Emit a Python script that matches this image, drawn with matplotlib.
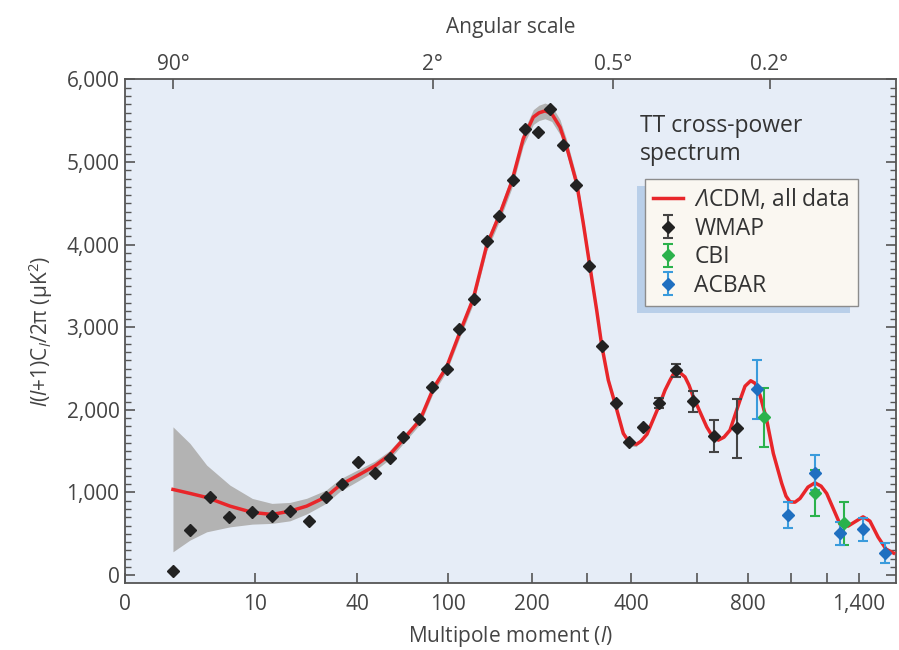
import numpy as np
import matplotlib
matplotlib.use('Agg')
import matplotlib.pyplot as plt
from matplotlib.ticker import FixedLocator, MultipleLocator, FuncFormatter, NullLocator
from matplotlib.patches import Rectangle

plt.rcParams['font.family'] = ['Open Sans', 'DejaVu Sans']
plt.rcParams['mathtext.fontset'] = 'custom'
plt.rcParams['mathtext.rm'] = 'Open Sans'
plt.rcParams['mathtext.it'] = 'Open Sans:italic'
plt.rcParams['mathtext.bf'] = 'Open Sans:bold'
plt.rcParams['mathtext.cal'] = 'Open Sans:italic'

# WMAP binned TT points
wmap_l = [2, 3.7, 5.6, 7.5, 9.7, 15, 20.3, 25.9, 30.9, 35.6, 40.9, 51.9, 61.7, 70.5,
          81.2, 89.6, 99.1, 113.5, 131.3, 146.1, 161.1, 177, 192, 210.9, 233.6, 255.8,
          280.9, 305, 333.4, 364.8, 395, 436.4, 485.8, 537.3, 588.8, 667.5, 755.7]
wmap_cl = [45, 545, 947, 698, 759, 718, 778, 653, 947, 1101, 1371, 1238, 1412, 1673,
           1884, 2278, 2501, 2985, 3340, 4041, 4348, 4780, 5397, 5360, 5647, 5203,
           4719, 3739, 2771, 2078, 1607, 1791, 2078, 2481, 2105, 1686, 1775]
wmap_err = [0] * 32 + [60, 80, 125, 197, 352]

cbi_l = [876, 1133, 1308]
cbi_cl = [1908, 996, 626]
cbi_err = [353, 276, 260]

acbar_l = [840, 987, 1133, 1281, 1429, 1573]
acbar_cl = [2247, 726, 1238, 505, 557, 270]
acbar_err = [355, 154, 212, 141, 139, 119]

# best-fit LCDM curve
model_l = [2, 3.66, 5.29, 7.56, 9.74, 15, 20.3, 25.2, 30.9, 35, 40.9, 51.9, 61.3, 70.5,
           81.5, 90.3, 99.1, 114.3, 130.1, 146.1, 161.9, 175.8, 189.6, 202.4, 212.7,
           223.6, 235.8, 250.9, 263.1, 281.3, 293.3, 306.8, 322, 333.4, 348.4, 365.9,
           382.5, 397.7, 417.3, 430, 448.5, 487.9, 503, 518.2, 527.3, 538.5, 548.5,
           563.6, 575.8, 588.8, 638, 658.8, 683.5, 705.9, 729.4, 768.6, 788.2, 812.6,
           832.6, 855.8, 887, 917.7, 956.7, 976.7, 995.3, 1022, 1050, 1094, 1133,
           1167, 1198, 1281, 1331, 1381, 1427, 1473, 1527, 1580, 1633]
model_cl = [1037, 989, 940, 835, 759, 734, 774, 835, 947, 1089, 1210, 1323, 1452, 1642,
            1876, 2259, 2520, 2944, 3348, 3993, 4377, 4759, 5284, 5545, 5596,
            5620, 5587, 5424, 5182, 4740, 4256, 3730, 3207, 2783, 2360, 2036,
            1715, 1594, 1585, 1620, 1706, 2078, 2238, 2360, 2426, 2460, 2450,
            2399, 2299, 2157, 1794, 1688, 1634, 1670, 1755, 2118, 2287, 2353,
            2323, 2178, 1876, 1473, 1110, 956, 887, 883, 928, 1065, 1117,
            1077, 989, 617, 593, 653, 705, 653, 460, 315, 266]

# cosmic-variance band around the model
band_l = [2, 3.66, 5.29, 7.56, 9.74, 15, 20.3, 25.2, 30.9, 35, 40.9, 51.9, 61.3, 70.5,
          81.5, 90.3, 99.1, 114.3, 130.1, 146.1, 161.9, 175.8, 189.6, 202.4, 212.7,
          223.6, 235.8, 250.9, 263.1, 281.3, 293.3, 306.8, 322, 333.4, 348.4, 365.9,
          382.5, 397.7, 417.3]
band_lo = [282, 424, 524, 584, 617, 626, 657, 740, 868, 1014, 1142, 1265, 1400, 1592,
           1826, 2207, 2465, 2884, 3283, 3923, 4302, 4679, 5199, 5455, 5503,
           5525, 5492, 5334, 5097, 4660, 4186, 3670, 3157, 2738, 2320, 2001,
           1685, 1564, 1555]
band_hi = [1795, 1594, 1331, 1089, 928, 868, 880, 930, 1029, 1164, 1278, 1381, 1504, 1692,
           1926, 2311, 2575, 3004, 3413, 4063, 4452, 4839, 5369, 5635, 5689,
           5715, 5682, 5514, 5267, 4820, 4326, 3790, 3257, 2828, 2400, 2071,
           1745, 1624, 1615]

x_ticks = [0, 10, 40, 100, 200, 300, 400, 600, 800, 1000, 1200, 1400]
x_labels = ['0', '10', '40', '100', '200', '', '400', '', '800', '', '', '1,400']
top_ticks = [2, 90, 360, 900]
top_labels = ['90°', '2°', '0.5°', '0.2°']

# multipole axis is stretched: log-like at low l, near linear at high l
scale_l = [0, 2, 10, 40, 100, 200, 300, 400, 600, 800, 1000, 1200, 1400, 1600, 1800]
scale_u = [125, 173, 255, 357, 448, 532, 587, 631, 697, 748, 791, 827, 859, 889, 917]


def fwd(l):
    return np.interp(l, scale_l, scale_u)


def inv(u):
    return np.interp(u, scale_u, scale_l)


grey = '#444444'
fig = plt.figure(figsize=(8.99, 6.5), dpi=100)
ax = fig.add_axes([0.139, 0.1038, 0.8577, 0.7739])
ax.set_facecolor('#e6edf7')
ax.set_xscale('function', functions=(fwd, inv))
ax.set_xlim(0, 1650)
ax.set_ylim(-90, 6000)

ax.fill_between(band_l, band_lo, band_hi, color='#b3b3b3', lw=0, zorder=1)
ax.plot(model_l, model_cl, color='#e8262a', lw=2.5, zorder=3,
        solid_joinstyle='round', label=r'$\mathcal{\Lambda}$CDM, all data')
ax.errorbar(wmap_l, wmap_cl, yerr=wmap_err, fmt='D', ms=6, color='#222222',
            ecolor='#444444', elinewidth=1.5, capsize=3.5, capthick=1.5, zorder=4,
            label='WMAP')
ax.errorbar(cbi_l, cbi_cl, yerr=cbi_err, fmt='D', ms=6, color='#2bb24c',
            ecolor='#2bb24c', elinewidth=1.5, capsize=3.5, capthick=1.5, zorder=4,
            label='CBI')
ax.errorbar(acbar_l, acbar_cl, yerr=acbar_err, fmt='D', ms=6, color='#1f6fc0',
            ecolor='#3a9bdc', elinewidth=1.5, capsize=3.5, capthick=1.5, zorder=4,
            label='ACBAR')

ax.xaxis.set_major_locator(FixedLocator(x_ticks))
ax.xaxis.set_minor_locator(NullLocator())
ax.set_xticklabels(x_labels)
ax.yaxis.set_major_locator(MultipleLocator(1000))
ax.yaxis.set_minor_locator(MultipleLocator(100))
ax.yaxis.set_major_formatter(FuncFormatter(lambda v, p: f'{int(v):,}'))

for s in ax.spines.values():
    s.set_color('#555555')
    s.set_linewidth(1.3)
ax.tick_params(axis='x', which='major', direction='in', length=7, width=1.2,
               color='#555555', labelsize=15, labelcolor=grey, pad=8)
ax.tick_params(axis='y', which='both', direction='in', left=True, right=True,
               color='#555555', labelsize=15, labelcolor=grey, pad=4)
ax.tick_params(axis='y', which='major', length=7, width=1.2)
ax.tick_params(axis='y', which='minor', length=4, width=1.0)

ax.set_xlabel('Multipole moment ($\\mathit{l}$)', fontsize=15, color=grey, labelpad=7)
ax.set_ylabel('$\\mathit{l}$($\\mathit{l}$+1)C$_\\mathit{l}$/2π (μK$^2$)',
              fontsize=15, color=grey, labelpad=8)

ax2 = ax.twiny()
ax2.set_xscale('function', functions=(fwd, inv))
ax2.set_xlim(ax.get_xlim())
ax2.xaxis.set_major_locator(FixedLocator(top_ticks))
ax2.xaxis.set_minor_locator(NullLocator())
ax2.set_xticklabels(top_labels)
ax2.tick_params(axis='x', direction='in', length=7, width=1.2, color='#555555',
                labelsize=15, labelcolor=grey, pad=3)
ax2.set_xlabel('Angular scale', fontsize=15, color=grey, labelpad=15)
for s in ax2.spines.values():
    s.set_visible(False)

fig.text(640 / 899, 1 - 114 / 650, 'TT cross-power\nspectrum', fontsize=16.5,
         color='#333333', linespacing=1.2, va='top', ha='left')

leg = ax.legend(loc='upper left', bbox_to_anchor=(645 / 899, 1 - 179 / 650),
                bbox_transform=fig.transFigure, fontsize=16.5, frameon=True,
                fancybox=False, borderaxespad=0, borderpad=0.35,
                labelspacing=0.2, handlelength=1.3, handletextpad=0.5)
leg.get_frame().set_facecolor('#faf7f1')
leg.get_frame().set_edgecolor('#8c8c8c')
leg.get_frame().set_linewidth(1.0)
leg.get_frame().set_alpha(1)
for t in leg.get_texts():
    t.set_color('#333333')
leg.set_zorder(6)

fig.canvas.draw()
bb = leg.get_window_extent().transformed(ax.transAxes.inverted())
dx = 8 / ax.bbox.width
dy = 7 / ax.bbox.height
ax.add_patch(Rectangle((bb.x0 - dx, bb.y0 - dy), bb.width, bb.height,
                       transform=ax.transAxes, facecolor='#b9cfe9', edgecolor='none',
                       zorder=5.5, clip_on=False))

fig.savefig('out.png', dpi=100)
